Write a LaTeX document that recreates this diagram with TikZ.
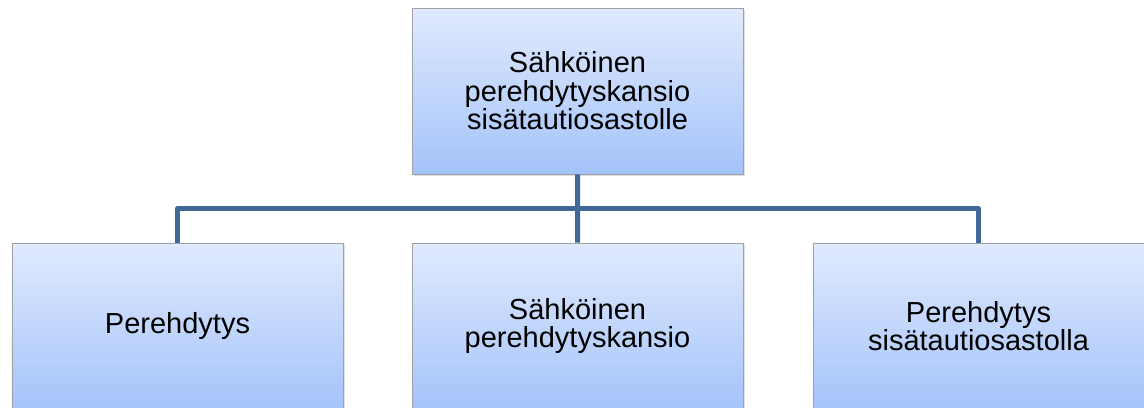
\documentclass[tikz,border=0pt]{standalone}
\usepackage{fontspec}
\setmainfont{Liberation Sans}
\usetikzlibrary{calc}
\usetikzlibrary{shadows}

\definecolor{boxtop}{RGB}{224,234,253}
\definecolor{boxbottom}{RGB}{164,195,250}
\definecolor{boxline}{RGB}{160,160,160}
\definecolor{linkblue}{RGB}{64,104,152}

\tikzset{
  orgbox/.style={draw=boxline, line width=0.8bp, top color=boxtop, bottom color=boxbottom,
    minimum width=331bp, minimum height=166bp, align=center, inner sep=0pt,
    font=\fontsize{29bp}{28.5bp}\selectfont,
    drop shadow={shadow xshift=1.5bp, shadow yshift=-2bp, opacity=0.25}},
  link/.style={draw=linkblue, line width=5bp, line join=round}
}

\begin{document}
\begin{tikzpicture}[x=1bp, y=1bp]
\clip (0,0) rectangle (1144,-407);
\node[orgbox] (top) at (577.5,-91) {Sähköinen\\perehdytyskansio\\sisätautiosastolle};
\node[orgbox] (left) at (177.5,-326) {Perehdytys};
\node[orgbox] (mid) at (577.5,-326) {Sähköinen\\perehdytyskansio};
\node[orgbox] (right) at (978.5,-326) {Perehdytys\\sisätautiosastolla};
\coordinate (bus) at ($(top.south)!0.5!(mid.north)$);
\draw[link] (top.south) -- (bus);
\draw[link] (left.north) |- (bus) -| (right.north);
\draw[link] (bus) -- (mid.north);
\end{tikzpicture}
\end{document}
